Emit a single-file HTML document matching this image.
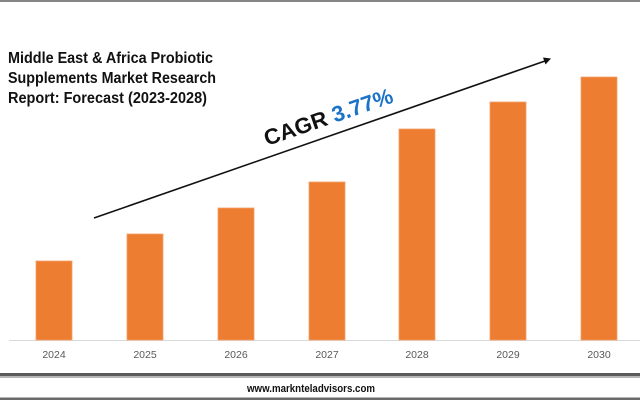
<!DOCTYPE html>
<html><head><meta charset="utf-8"><style>
html,body{margin:0;padding:0;background:#fff;}
svg{display:block;}
</style></head><body>
<svg width="640" height="400" viewBox="0 0 640 400" xmlns="http://www.w3.org/2000/svg">
<rect width="640" height="400" fill="#fff"/>
<rect x="0" y="0" width="640" height="2" fill="#858585"/>
<g font-family="Liberation Sans, Arial, sans-serif" font-weight="bold" fill="#111" font-size="15.5">
<text x="8" y="63" textLength="205" lengthAdjust="spacingAndGlyphs">Middle East &amp; Africa Probiotic</text>
<text x="8" y="83" textLength="208" lengthAdjust="spacingAndGlyphs">Supplements Market Research</text>
<text x="8" y="103" textLength="199" lengthAdjust="spacingAndGlyphs">Report: Forecast (2023-2028)</text>
</g>
<line x1="9" y1="340.5" x2="640" y2="340.5" stroke="#d9d9d9" stroke-width="1"/>
<g fill="#ED7D31" stroke="#f4a06a" stroke-width="0.8">
<rect x="36" y="261" width="36" height="79"/>
<rect x="127" y="234" width="36" height="106"/>
<rect x="218" y="208" width="36" height="132"/>
<rect x="309" y="182" width="36" height="158"/>
<rect x="399" y="129" width="36" height="211"/>
<rect x="490" y="102" width="36" height="238"/>
<rect x="581" y="77" width="36" height="263"/>
</g>
<g font-family="Liberation Sans, Arial, sans-serif" font-size="10.5" fill="#595959" text-anchor="middle">
<text x="54" y="358">2024</text>
<text x="145" y="358">2025</text>
<text x="236" y="358">2026</text>
<text x="327" y="358">2027</text>
<text x="417" y="358">2028</text>
<text x="508" y="358">2029</text>
<text x="599" y="358">2030</text>
</g>
<line x1="94" y1="218" x2="545" y2="61" stroke="#111" stroke-width="1.6"/>
<polygon points="551,58.5 543,57.5 545.5,64.5" fill="#111"/>
<text x="267" y="146" transform="rotate(-19 267 146)" font-family="Liberation Sans, Arial, sans-serif" font-weight="bold" font-size="22" textLength="135" lengthAdjust="spacingAndGlyphs"><tspan fill="#111">CAGR </tspan><tspan fill="#1a73c8">3.77%</tspan></text>
<rect x="0" y="373" width="640" height="3" fill="#5a5a5a"/>
<rect x="0" y="376" width="640" height="2" fill="#b5b5b5"/>
<text x="311" y="392" text-anchor="middle" font-family="Liberation Sans, Arial, sans-serif" font-weight="bold" font-size="11" fill="#111" textLength="128" lengthAdjust="spacingAndGlyphs">www.marknteladvisors.com</text>
<rect x="0" y="397.5" width="640" height="2.5" fill="#6a6a6a"/>
</svg>
</body></html>
